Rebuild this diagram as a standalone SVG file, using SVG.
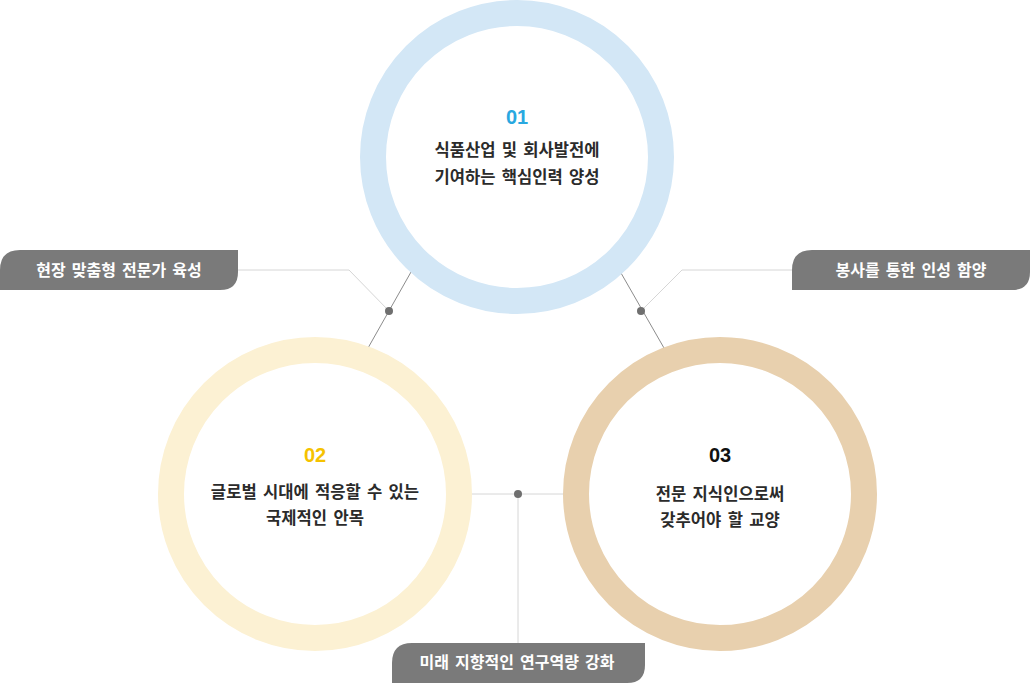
<svg xmlns="http://www.w3.org/2000/svg" width="1030" height="683" viewBox="0 0 1030 683">
<style>
.ring{fill:none;stroke-width:26}
.num{font-family:"Liberation Sans","Noto Sans",sans-serif;font-weight:bold;font-size:20px;text-anchor:middle}
.txt{font-family:"Noto Sans CJK KR","Noto Sans",sans-serif;font-weight:bold;font-size:16.6px;fill:#2b2b2b;text-anchor:middle;word-spacing:2.5px}
.lbl{fill:#7a7a7a}
.lt{font-family:"Noto Sans CJK KR","Noto Sans",sans-serif;font-weight:bold;font-size:16px;fill:#fff;text-anchor:middle;word-spacing:2.5px}
.dk{stroke:#8c8c8c;stroke-width:1;fill:none}
.lg{stroke:#d6d6d6;stroke-width:1;fill:none}
.dot{fill:#6f6f6f}
</style>
<rect width="1030" height="683" fill="#fff"/>
<g id="connectors">
<line class="dk" x1="411" y1="272" x2="368" y2="348"/>
<polyline class="lg" points="238,270 349,270 389,311"/>
<circle class="dot" cx="389" cy="311" r="4"/>
<line class="dk" x1="621" y1="273" x2="664" y2="348"/>
<polyline class="lg" points="792,270 682,270 641,311"/>
<circle class="dot" cx="641" cy="311" r="4"/>
<line class="lg" x1="471" y1="494" x2="564" y2="494"/>
<line class="lg" x1="518" y1="494" x2="518" y2="643"/>
<circle class="dot" cx="518" cy="494" r="4"/>
</g>
<g id="node1">
<circle class="ring" cx="517" cy="157" r="144" stroke="#d3e7f6"/>
<text class="num" x="517" y="124" fill="#29a8e0">01</text>
<text class="txt" x="517" y="156">식품산업 및 회사발전에</text>
<text class="txt" x="517" y="183">기여하는 핵심인력 양성</text>
</g>
<g id="node2">
<circle class="ring" cx="315" cy="494" r="144" stroke="#fcf1d3"/>
<text class="num" x="315" y="462" fill="#f5c200">02</text>
<text class="txt" x="315" y="498">글로벌 시대에 적응할 수 있는</text>
<text class="txt" x="315" y="524">국제적인 안목</text>
</g>
<g id="node3">
<circle class="ring" cx="720" cy="494" r="144" stroke="#e8d0ae"/>
<text class="num" x="720" y="462" fill="#111">03</text>
<text class="txt" x="720" y="500">전문 지식인으로써</text>
<text class="txt" x="720" y="526">갖추어야 할 교양</text>
</g>
<g id="label1">
<path class="lbl" d="M0,270 Q0,250 20,250 L238,250 L238,272 Q238,290 220,290 L0,290 Z"/>
<text class="lt" x="119" y="276">현장 맞춤형 전문가 육성</text>
</g>
<g id="label2">
<path class="lbl" d="M792,270 Q792,250 812,250 L1030,250 L1030,272 Q1030,290 1012,290 L792,290 Z"/>
<text class="lt" x="911" y="276">봉사를 통한 인성 함양</text>
</g>
<g id="label3">
<path class="lbl" d="M392,663 Q392,643 412,643 L645,643 L645,665 Q645,683 627,683 L392,683 Z"/>
<text class="lt" x="517" y="668">미래 지향적인 연구역량 강화</text>
</g>
</svg>
